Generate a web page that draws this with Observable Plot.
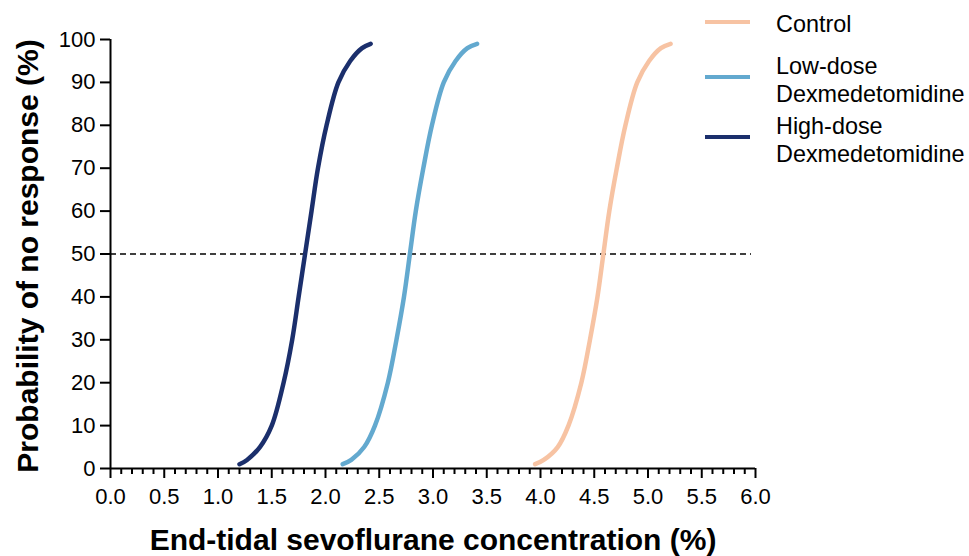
<!DOCTYPE html>
<html><head><meta charset="utf-8">
<script src="https://cdn.jsdelivr.net/npm/d3@7"></script>
<script src="https://cdn.jsdelivr.net/npm/@observablehq/plot@0.6"></script>
<style>
body{margin:0;background:#fff;font-family:"Liberation Sans",Arial,sans-serif}
#wrap{position:relative;width:969px;height:556px;overflow:hidden}
.lg-line{position:absolute;left:705px;width:45px;height:4px}
.lg-text{position:absolute;left:776px;font-size:23.4px;line-height:28px;color:#000;white-space:nowrap}
</style></head><body>
<div id="wrap"><div id="chart"></div><div id="legend"></div></div>
<script>
// Probability of no response (%) levels at which the curves were read
const probLevels = [1, 2, 5, 10, 20, 30, 40, 50, 60, 70, 80, 90, 95, 98, 99];
// End-tidal sevoflurane concentration (%) read at each level
const controlConc  = [3.95, 4.03, 4.16, 4.26, 4.38, 4.46, 4.53, 4.585, 4.64, 4.71, 4.79, 4.90, 5.01, 5.12, 5.21];
const lowDoseConc  = [2.16, 2.24, 2.36, 2.46, 2.58, 2.66, 2.73, 2.785, 2.84, 2.91, 2.99, 3.10, 3.21, 3.32, 3.41];
const highDoseConc = [1.20, 1.27, 1.39, 1.50, 1.61, 1.69, 1.75, 1.81, 1.87, 1.93, 2.01, 2.12, 2.23, 2.34, 2.42];

const seriesNames  = ["Control", "Low-dose Dexmedetomidine", "High-dose Dexmedetomidine"];
const legendLabels = [["Control"], ["Low-dose", "Dexmedetomidine"], ["High-dose", "Dexmedetomidine"]];
const seriesColors = ["#F7C3A3", "#63A9CF", "#1B2F6C"];
const xMajorTicks  = [0, 0.5, 1, 1.5, 2, 2.5, 3, 3.5, 4, 4.5, 5, 5.5, 6];
const xMinorTicks  = [0.1,0.2,0.3,0.4,0.6,0.7,0.8,0.9,1.1,1.2,1.3,1.4,1.6,1.7,1.8,1.9,2.1,2.2,2.3,2.4,2.6,2.7,2.8,2.9,3.1,3.2,3.3,3.4,3.6,3.7,3.8,3.9,4.1,4.2,4.3,4.4,4.6,4.7,4.8,4.9,5.1,5.2,5.3,5.4,5.6,5.7,5.8,5.9];
const yTicks       = [0, 10, 20, 30, 40, 50, 60, 70, 80, 90, 100];
const referenceLevel = 50;

const concs = [controlConc, lowDoseConc, highDoseConc];
const data = [];
seriesNames.forEach((name, i) => concs[i].forEach((c, j) => data.push({series: name, conc: c, prob: probLevels[j]})));

const chart = Plot.plot({
  width: 969, height: 556,
  marginLeft: 110, marginRight: 214, marginTop: 39, marginBottom: 88,
  style: {fontFamily: "'Liberation Sans', Arial, sans-serif", color: "#000", background: "#fff"},
  x: {domain: [0, 6]},
  y: {domain: [0, 100]},
  color: {domain: seriesNames, range: seriesColors},
  marks: [
    Plot.ruleY([referenceLevel], {stroke: "#000", strokeWidth: 1.6, strokeDasharray: "6,4", insetRight: 4}),
    Plot.line(data, {x: "conc", y: "prob", z: "series", stroke: "series", strokeWidth: 4.5, curve: "catmull-rom"}),
    Plot.axisX({ticks: xMinorTicks, tickSize: 6, tickFormat: () => "", label: null, strokeWidth: 2}),
    Plot.axisX({ticks: xMajorTicks, tickSize: 10, tickPadding: 10, tickFormat: d => d.toFixed(1), label: null, strokeWidth: 2, fontSize: 22}),
    Plot.axisY({ticks: yTicks, tickSize: 10, tickPadding: 5, label: null, strokeWidth: 2, fontSize: 22}),
    Plot.ruleX([0], {stroke: "#000", strokeWidth: 2}),
    Plot.ruleY([0], {stroke: "#000", strokeWidth: 2}),
    Plot.text(["End-tidal sevoflurane concentration (%)"], {text: d => d, frameAnchor: "bottom", dy: 72, fontSize: 30, fontWeight: "bold", textAnchor: "middle", lineAnchor: "middle"}),
    Plot.text(["Probability of no response (%)"], {text: d => d, frameAnchor: "left", dx: -82, dy: 2, rotate: -90, fontSize: 30, fontWeight: "bold", textAnchor: "middle", lineAnchor: "middle"})
  ]
});
document.getElementById("chart").appendChild(chart);

// Legend
const legend = document.getElementById("legend");
const lineYs = [22, 77, 137];
const textTops = [10, 52, 112];
seriesNames.forEach((name, i) => {
  const l = document.createElement("div");
  l.className = "lg-line";
  l.style.top = (lineYs[i] - 2) + "px";
  l.style.background = seriesColors[i];
  legend.appendChild(l);
  const t = document.createElement("div");
  t.className = "lg-text";
  t.style.top = textTops[i] + "px";
  t.innerHTML = legendLabels[i].join("<br>");
  legend.appendChild(t);
});
</script>
</body></html>
